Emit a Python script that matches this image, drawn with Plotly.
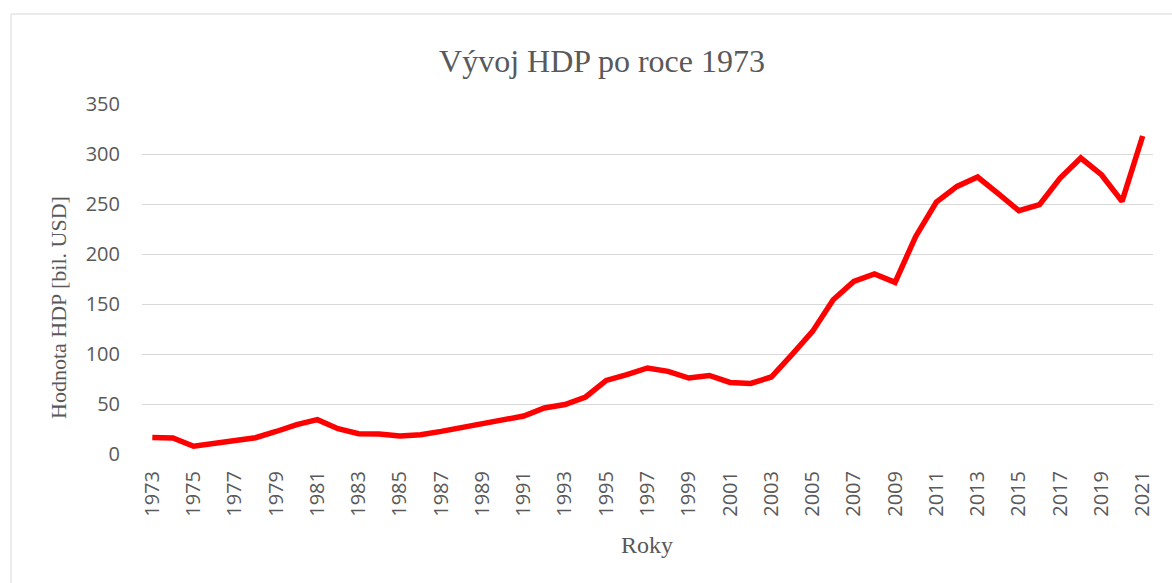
import plotly.graph_objects as go

# GDP development, 1973-2021 (billions USD)
years = list(range(1973, 2022))
gdp = [
    16.5, 16.0, 7.7, 11.0, 14.3, 16.3, 22.5, 29.3, 34.3, 25.3,
    20.3, 20.0, 18.0, 19.3, 22.6, 26.5, 30.0, 33.0, 38.0, 46.0,
    49.5, 57.0, 73.6, 79.3, 86.0, 82.6, 76.0, 78.5, 71.6, 70.6,
    77.0, 99.3, 122.6, 154.3, 172.6, 180.0, 171.6, 217.6, 252.0, 267.6,
    277.0, 260.3, 243.3, 249.3, 276.0, 296.0, 279.3, 252.6, 318.0,
]
x_ticks = [y for y in years if (y - 1973) % 2 == 0]
y_ticks = [0, 50, 100, 150, 200, 250, 300, 350]

W, H = 1172, 583
L, R, T, B = 142, 19, 104, 129
pw, ph = W - L - R, H - T - B


def px_x(px):
    return (px - L) / pw


def px_y(py):
    return (H - B - py) / ph


grey = "#595959"
serif = "Liberation Serif, Times New Roman, serif"
sans = "Open Sans, Calibri, sans-serif"

fig = go.Figure(
    go.Scatter(
        x=years,
        y=gdp,
        mode="lines",
        line=dict(color="#FF0000", width=5.5),
        hoverinfo="x+y",
    )
)

fig.update_layout(
    width=W,
    height=H,
    margin=dict(l=L, r=R, t=T, b=B),
    paper_bgcolor="white",
    plot_bgcolor="white",
    showlegend=False,
    title=dict(
        text="Vývoj HDP po roce 1973",
        font=dict(family=serif, size=32, color=grey),
        xref="container",
        x=602 / W,
        xanchor="center",
        yref="container",
        y=1 - 61 / H,
        yanchor="middle",
    ),
    xaxis=dict(
        range=[1972.5, 2021.5],
        tickmode="array",
        tickvals=x_ticks,
        ticktext=[str(v) for v in x_ticks],
        tickangle=-90,
        tickfont=dict(family=sans, size=20, color=grey),
        ticks="",
        ticklabelstandoff=12,
        showgrid=False,
        zeroline=False,
        showline=False,
    ),
    yaxis=dict(
        range=[0, 350],
        tickmode="array",
        tickvals=y_ticks,
        tickfont=dict(family=sans, size=20, color=grey),
        ticks="",
        ticklabelstandoff=21,
        showgrid=True,
        gridcolor="#D9D9D9",
        gridwidth=1.3,
        zeroline=False,
        showline=False,
    ),
    annotations=[
        dict(
            text="Hodnota HDP [bil. USD]",
            xref="paper",
            yref="paper",
            x=px_x(58),
            y=px_y(308),
            xanchor="center",
            yanchor="middle",
            textangle=-90,
            showarrow=False,
            font=dict(family=serif, size=22, color=grey),
        ),
        dict(
            text="Roky",
            xref="paper",
            yref="paper",
            x=px_x(647),
            y=px_y(545),
            xanchor="center",
            yanchor="middle",
            showarrow=False,
            font=dict(family=serif, size=24, color=grey),
        ),
    ],
    shapes=[
        dict(
            type="rect",
            xref="paper",
            yref="paper",
            x0=px_x(11),
            x1=px_x(1220),
            y0=px_y(640),
            y1=px_y(14),
            line=dict(color="#D9D9D9", width=1),
            fillcolor="rgba(0,0,0,0)",
            layer="below",
        )
    ],
)

fig.write_html("out.html")
